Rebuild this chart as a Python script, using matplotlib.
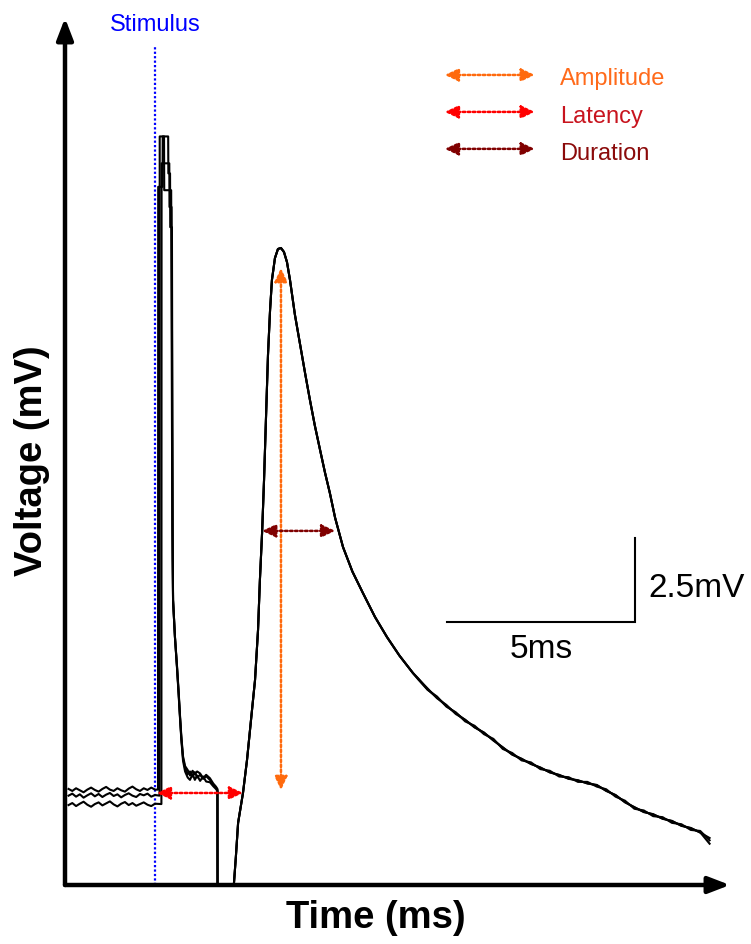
import matplotlib
matplotlib.use("Agg")
import matplotlib.pyplot as plt

plt.rcParams['font.family'] = ['Liberation Sans', 'DejaVu Sans']

# ---- recorded sweeps (time in ms relative to stimulus, voltage in mV) ----
base_t = [-2.30, -2.20, -2.10, -2.00, -1.90, -1.80, -1.70, -1.60, -1.50, -1.40,
          -1.30, -1.20, -1.10, -1.00, -0.90, -0.80, -0.70, -0.60, -0.50, -0.40,
          -0.30, -0.20, -0.10, 0.00]
base_a = [0.18, 0.12, 0.20, 0.14, 0.08, 0.16, 0.22, 0.15, 0.10, 0.18, 0.24, 0.16,
          0.12, 0.20, 0.14, 0.10, 0.19, 0.25, 0.17, 0.12, 0.20, 0.15, 0.22, 0.16]
base_b = [-0.02, 0.04, -0.05, 0.02, -0.08, -0.01, 0.05, -0.04, 0.03, -0.06, 0.01, 0.06,
          -0.03, 0.02, -0.07, 0.00, 0.05, -0.02, -0.06, 0.03, -0.01, 0.04, -0.05, 0.00]
base_c = [-0.30, -0.24, -0.33, -0.26, -0.20, -0.29, -0.35, -0.27, -0.22, -0.31, -0.25, -0.19,
          -0.28, -0.34, -0.26, -0.21, -0.30, -0.24, -0.32, -0.27, -0.22, -0.29, -0.33, -0.26]

# stimulus artefact of each sweep
art_a_t = [0.08, 0.085, 0.20, 0.205, 0.35, 0.355, 0.40, 0.405, 0.45, 0.47, 0.48]
art_a_v = [0.16, 18.1, 18.1, 19.6, 19.6, 18.5, 18.5, 16.9, 16.9, 7.0, 5.8]
art_b_t = [0.12, 0.125, 0.24, 0.245, 0.43, 0.46, 0.48]
art_b_v = [-0.02, 19.6, 19.6, 18.0, 18.0, 8.0, 5.8]
art_c_t = [0.17, 0.175, 0.38, 0.385, 0.44, 0.47, 0.48]
art_c_v = [-0.27, 18.8, 18.8, 17.5, 17.5, 7.5, 5.8]

# recovery after the artefact
post_t = [0.53, 0.585, 0.63, 0.665, 0.70, 0.745, 0.80, 0.87, 0.93, 1.00, 1.06, 1.12,
          1.20, 1.28, 1.36, 1.46, 1.55, 1.62, 1.66]
post_a = [4.70, 3.81, 3.00, 2.32, 1.70, 1.10, 0.80, 0.62, 0.70, 0.55, 0.68, 0.52,
          0.60, 0.48, 0.56, 0.45, 0.30, 0.22, 0.15]
post_b = [4.70, 3.78, 2.95, 2.28, 1.65, 1.02, 0.70, 0.52, 0.45, 0.62, 0.45, 0.58,
          0.42, 0.55, 0.40, 0.38, 0.26, 0.18, 0.12]
post_c = [4.72, 3.84, 3.05, 2.36, 1.75, 1.15, 0.86, 0.74, 0.58, 0.72, 0.62, 0.70,
          0.64, 0.50, 0.60, 0.50, 0.34, 0.25, 0.18]

# compound action potential (common to all sweeps)
resp_t = [1.67, 2.02, 2.10, 2.15, 2.21, 2.28, 2.34, 2.447, 2.553, 2.66, 2.74, 2.79,
          2.85, 2.90, 2.95, 3.005, 3.06, 3.11, 3.19, 3.27, 3.35, 3.43, 3.51, 3.59,
          3.72, 3.86, 4.00, 4.12, 4.25, 4.39, 4.52, 4.65, 4.79, 5.00, 5.25, 5.53,
          5.85, 6.17, 6.50, 6.86]
resp_v = [-9.00, -6.00, -2.62, -1.85, -0.83, -0.35, 0.06, 1.04, 2.23, 3.42, 4.91, 6.40,
          7.86, 9.38, 11.16, 13.10, 14.43, 15.33, 15.98, 16.25, 16.28, 16.16, 15.86, 15.33,
          14.30, 13.40, 12.50, 11.76, 11.00, 10.27, 9.60, 8.99, 8.25, 7.38, 6.65, 6.01,
          5.30, 4.70, 4.15, 3.63]

# slow tail of each sweep
tail_t = [7.00, 7.25, 7.50, 7.75, 8.00, 8.25, 8.50, 8.75, 9.00, 9.25, 9.50, 9.75,
          10.00, 10.25, 10.50, 10.75, 11.00, 11.25, 11.50, 11.75, 12.00, 12.25, 12.50,
          12.75, 13.00, 13.25, 13.50, 13.75, 14.00, 14.25, 14.50, 14.75]
tail_a = [3.46, 3.17, 2.88, 2.68, 2.41, 2.24, 2.01, 1.86, 1.62, 1.42, 1.20, 1.08,
          0.92, 0.82, 0.67, 0.60, 0.48, 0.44, 0.34, 0.30, 0.12, 0.00, -0.22, -0.36,
          -0.51, -0.57, -0.71, -0.77, -0.92, -0.98, -1.12, -1.28]
tail_b = [3.44, 3.13, 2.93, 2.63, 2.46, 2.19, 2.06, 1.81, 1.67, 1.37, 1.25, 1.03,
          0.97, 0.77, 0.72, 0.55, 0.53, 0.39, 0.39, 0.25, 0.17, -0.05, -0.17, -0.41,
          -0.46, -0.63, -0.66, -0.83, -0.87, -1.04, -1.07, -1.35]
tail_c = [3.47, 3.14, 2.90, 2.65, 2.44, 2.23, 2.02, 1.85, 1.63, 1.41, 1.21, 1.07,
          0.93, 0.81, 0.68, 0.59, 0.49, 0.43, 0.35, 0.29, 0.13, -0.01, -0.21, -0.37,
          -0.50, -0.58, -0.70, -0.78, -0.91, -0.99, -1.11, -1.45]

# measurement annotations
amp_t, amp_v0, amp_v1 = 3.35, 0.15, 15.68
lat_v, lat_t0, lat_t1 = 0.06, 0.05, 2.34
dur_v, dur_t0, dur_t1 = 7.86, 2.85, 4.79

legend_labels = ['Amplitude', 'Latency', 'Duration']
legend_arrow_colors = ['#FF6A0D', '#FF0000', '#800000']
legend_text_colors = ['#FF6A1A', '#C8141E', '#8B0A0A']

# scale bar
scale_ms, scale_mv = 5.0, 2.5
scale_origin = (7.766, 5.149)

# ---- figure ----
W, H = 751, 944
fig = plt.figure(figsize=(W / 100, H / 100), dpi=100)
ax = fig.add_axes([65 / W, (H - 885) / H, (730 - 65) / W, (885 - 18) / H])
ax.set_xlim(-2.394, 15.293)
ax.set_ylim(-2.679, 23.125)
ax.axis('off')

sweeps = [
    (art_a_t, art_a_v, base_a, post_a, tail_a),
    (art_b_t, art_b_v, base_b, post_b, tail_b),
    (art_c_t, art_c_v, base_c, post_c, tail_c),
]
for at, av, bv, pv, tv in sweeps:
    t = base_t + at + post_t + resp_t + tail_t
    v = bv + av + pv + resp_v + tv
    ax.plot(t, v, color='black', lw=1.5, solid_joinstyle='round', zorder=3)

# stimulus marker
ax.plot([0, 0], [-2.679, 22.32], color='#0000FF', lw=1.6, ls=(0, (1, 1)), zorder=2)
ax.text(0, 22.74, 'Stimulus', color='#0000FF', fontsize=17, ha='center',
        va='baseline', clip_on=False)


def dotted_arrow(x0, y0, x1, y1, color):
    ax.annotate('', xy=(x1, y1), xytext=(x0, y0),
                arrowprops=dict(arrowstyle='<|-|>,head_length=0.8,head_width=0.38',
                                color=color, lw=1.8, linestyle=(0, (1, 1)),
                                shrinkA=0, shrinkB=0, mutation_scale=10),
                zorder=5)


dotted_arrow(amp_t, amp_v0, amp_t, amp_v1, legend_arrow_colors[0])
dotted_arrow(lat_t0, lat_v, lat_t1, lat_v, legend_arrow_colors[1])
dotted_arrow(dur_t0, dur_v, dur_t1, dur_v, legend_arrow_colors[2])

# legend
leg_arrow_v = [21.43, 20.33, 19.23]
leg_text_v = [21.13, 20.00, 18.90]
for lab, ac, tc, av, tv in zip(legend_labels, legend_arrow_colors, legend_text_colors,
                               leg_arrow_v, leg_text_v):
    dotted_arrow(7.71, av, 10.10, av, ac)
    ax.text(10.77, tv, lab, color=tc, fontsize=17, ha='left', va='baseline')

# scale bar
sx, sy = scale_origin
ax.plot([sx, sx + scale_ms, sx + scale_ms], [sy, sy, sy + scale_mv],
        color='black', lw=1.5, solid_joinstyle='miter')
ax.text(sx + scale_ms / 2, 4.08, '5ms', fontsize=24, ha='center', va='baseline')
ax.text(13.11, 5.89, '2.5mV', fontsize=24, ha='left', va='baseline')

# axis arrows
arrow_kw = dict(arrowstyle='-|>,head_length=1.3,head_width=0.5', color='black',
                lw=3.2, shrinkA=0, shrinkB=0, mutation_scale=10)
ax.annotate('', xy=(0, 1), xytext=(0, 0), xycoords='axes fraction',
            textcoords='axes fraction', arrowprops=arrow_kw, zorder=6)
ax.annotate('', xy=(1, 0), xytext=(0, 0), xycoords='axes fraction',
            textcoords='axes fraction', arrowprops=arrow_kw, zorder=6)

fig.text(32 / W, 1 - 461 / H, 'Voltage (mV)', rotation=90, fontsize=27.5,
         fontweight='bold', ha='center', va='center')
fig.text(376 / W, 1 - 918 / H, 'Time (ms)', fontsize=27.5, fontweight='bold',
         ha='center', va='center')

fig.savefig('out.png', dpi=100)
